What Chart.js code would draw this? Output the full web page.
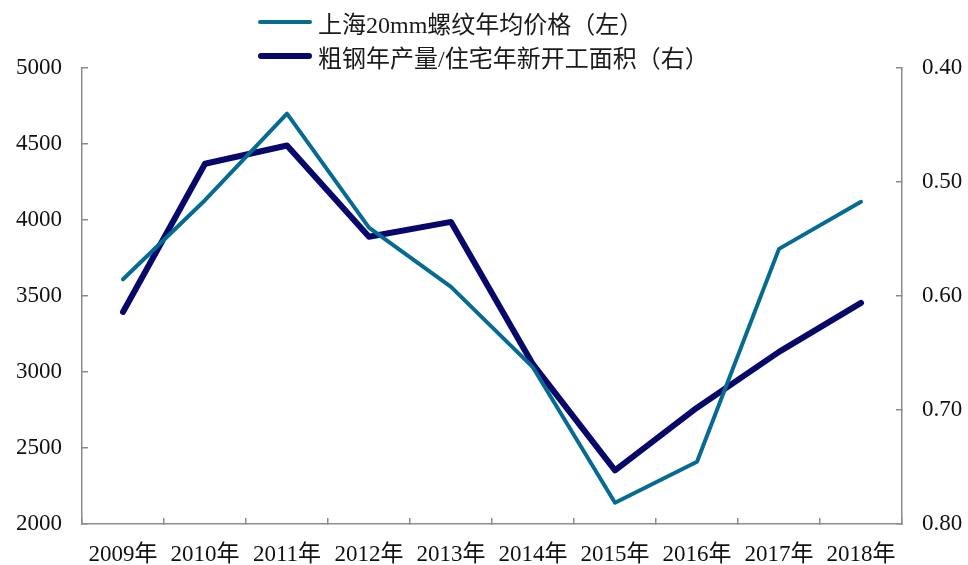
<!DOCTYPE html>
<html>
<head>
<meta charset="utf-8">
<script src="https://cdn.jsdelivr.net/npm/chart.js@4/dist/chart.umd.min.js"></script>
<style>
  body { margin: 0; background: #fff; }
  #wrap { position: relative; width: 968px; height: 565px; }
  #legend { position: absolute; left: 258px; top: 5px; font: 24px "Liberation Serif", "Noto Sans CJK SC", serif; color: #1a1a1a; }
  #legend .item { display: flex; align-items: center; height: 34px; }
  #legend .swatch { width: 54px; border-radius: 3px; margin-right: 6px; }
</style>
</head>
<body>
<div id="wrap">
  <canvas id="steelChart" width="968" height="565"></canvas>
  <div id="legend"></div>
</div>
<script>
// 螺纹钢价格与粗钢产量/住宅新开工面积

const years = ['2009年', '2010年', '2011年', '2012年', '2013年', '2014年', '2015年', '2016年', '2017年', '2018年'];
const rebarPrice = [3610, 4130, 4700, 3950, 3560, 3030, 2140, 2410, 3810, 4120];
const steelRatio = [0.614, 0.484, 0.468, 0.548, 0.535, 0.660, 0.753, 0.698, 0.649, 0.606];
const seriesNames = ['上海20mm螺纹年均价格（左）', '粗钢年产量/住宅年新开工面积（右）'];

const axisGray = '#8c8c8c';
const fontFamily = '"Liberation Serif", "Noto Sans CJK SC", serif';

const ctx = document.getElementById('steelChart').getContext('2d');
const chart = new Chart(ctx, {
    type: 'line',
    data: {
        labels: years,
        datasets: [{
            label: seriesNames[0],
            data: rebarPrice,
            yAxisID: 'y',
            borderColor: '#066b93',
            borderWidth: 4,
            pointRadius: 0,
            borderCapStyle: 'round',
            borderJoinStyle: 'round',
            tension: 0
        }, {
            label: seriesNames[1],
            data: steelRatio,
            yAxisID: 'y1',
            borderColor: '#08076a',
            borderWidth: 6,
            pointRadius: 0,
            borderCapStyle: 'round',
            borderJoinStyle: 'round',
            tension: 0
        }]
    },
    options: {
        responsive: false,
        animation: false,
        layout: { padding: { top: 68, left: 0, right: 0, bottom: 0 } },
        plugins: {
            legend: { display: false },
            tooltip: { enabled: false }
        },
        scales: {
            x: {
                offset: true,
                grid: { offset: true, drawOnChartArea: false, tickLength: -6, color: axisGray, lineWidth: 1.5 },
                border: { color: axisGray, width: 1.5 },
                ticks: { color: '#111', font: { family: fontFamily, size: 23 }, padding: 23, maxRotation: 0, autoSkip: false },
                afterFit: function(scale) { scale.height = 41; }
            },
            y: {
                position: 'left',
                min: 2000,
                max: 5000,
                ticks: {
                    stepSize: 500,
                    color: '#111',
                    font: { family: fontFamily, size: 23 },
                    padding: 26,
                    callback: function(value) {
                        return String(value);
                    }
                },
                grid: { drawOnChartArea: false, tickLength: -6, color: axisGray, lineWidth: 1.5 },
                border: { color: axisGray, width: 1.5 },
                afterFit: function(scale) { scale.width = 82; }
            },
            y1: {
                position: 'right',
                reverse: true,
                min: 0.4,
                max: 0.8,
                ticks: {
                    stepSize: 0.1,
                    color: '#111',
                    font: { family: fontFamily, size: 23 },
                    padding: 26,
                    callback: function(value) {
                        return value.toFixed(2);
                    }
                },
                grid: { drawOnChartArea: false, tickLength: -6, color: axisGray, lineWidth: 1.5 },
                border: { color: axisGray, width: 1.5 },
                afterFit: function(scale) { scale.width = 66; }
            }
        }
    }
});

// 图例：两行竖排
const legendBox = document.getElementById('legend');
chart.data.datasets.forEach(function(ds) {
    const item = document.createElement('div');
    item.className = 'item';
    const swatch = document.createElement('span');
    swatch.className = 'swatch';
    swatch.style.height = ds.borderWidth + 'px';
    swatch.style.background = ds.borderColor;
    const text = document.createElement('span');
    text.textContent = ds.label;
    item.appendChild(swatch);
    item.appendChild(text);
    legendBox.appendChild(item);
});
</script>
</body>
</html>
